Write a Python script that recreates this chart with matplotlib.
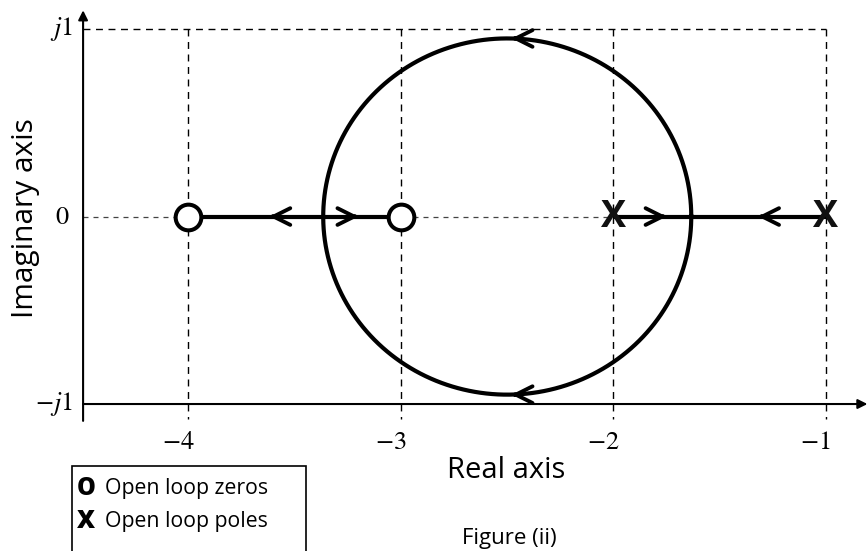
import numpy as np
import matplotlib
matplotlib.use("Agg")
import matplotlib.pyplot as plt
from matplotlib.patches import Rectangle

plt.rcParams['mathtext.fontset'] = 'stix'

# ---- data ----
zeros = [-4.0, -3.0]
poles = [-2.0, -1.0]
x_ticks = [-4, -3, -2, -1]
x_tick_labels = [r'$-4$', r'$-3$', r'$-2$', r'$-1$']
y_ticks = [1, -1]
y_tick_labels = [r'$j1$', r'$-j1$']
zero_label = r'$0$'
circle_center = -2.5
circle_rx = 0.866
circle_ry = 0.95
# real-axis arrow tips (x, direction)
real_arrows = [(-3.62, -1), (-3.2, 1), (-1.75, 1), (-1.32, -1)]
circle_arrows = [(-2.48, 0.95, -1), (-2.48, -0.95, -1)]

fig = plt.figure(figsize=(8.67, 5.51), dpi=100)
ax = fig.add_axes([0, 0, 1, 1])
ax.set_xlim(-4.887, -0.807)
ax.set_ylim(-1.784, 1.155)
ax.axis('off')

xa = -4.496   # x position of imaginary axis
# axes with arrows
ax.annotate('', xy=(-0.805, -1), xytext=(xa, -1),
            arrowprops=dict(arrowstyle='-|>', lw=1.5, color='black', mutation_scale=14, shrinkA=0, shrinkB=0))
ax.annotate('', xy=(xa, 1.10), xytext=(xa, -1.09),
            arrowprops=dict(arrowstyle='-|>', lw=1.5, color='black', mutation_scale=14, shrinkA=0, shrinkB=0))

# dashed grid lines
dash = dict(color='black', lw=1.0, ls=(0, (5, 4)))
ax.plot([xa, x_ticks[-1]], [1, 1], **dash)
for xt in x_ticks:
    ax.plot([xt, xt], [1, -1.08], **dash)
ax.plot([xa, poles[0]], [0, 0], color='#444444', lw=0.9, ls=(0, (4, 4)))

# root locus branches on real axis
ax.plot([zeros[0], zeros[1]], [0, 0], color='black', lw=3, solid_capstyle='butt', zorder=3)
ax.plot([poles[0], poles[1]], [0, 0], color='black', lw=3, solid_capstyle='butt', zorder=3)

# circle
t = np.linspace(0, 2 * np.pi, 400)
ax.plot(circle_center + circle_rx * np.cos(t), circle_ry * np.sin(t), color='black', lw=3, zorder=3)

# chevron arrows
def chevron(x, y, d):
    ax.annotate('', xy=(x, y), xytext=(x - d * 0.02, y),
                arrowprops=dict(arrowstyle='->', lw=2.8, color='black', mutation_scale=30,
                                shrinkA=0, shrinkB=0, capstyle='round'), zorder=4)

for x, d in real_arrows:
    chevron(x, 0, d)
for x, y, d in circle_arrows:
    chevron(x, y, d)

# zeros and poles
ax.plot(zeros, [0, 0], 'o', ms=18.5, mfc='white', mec='black', mew=2.9, zorder=5)
for p in poles:
    ax.text(p, 0, 'X', fontsize=27, fontweight='bold', family='Open Sans',
            ha='center', va='center', color='#111111', zorder=6)

# tick labels
for xt, lab in zip(x_ticks, x_tick_labels):
    ax.text(xt - 0.05, -1.203, lab, fontsize=19, ha='center', va='center')
for yt, lab in zip(y_ticks, y_tick_labels):
    ax.text(-4.543, yt, lab, fontsize=19, ha='right', va='center')
ax.text(-4.595, 0, zero_label, fontsize=19, ha='center', va='center')

# axis labels
ax.text(-2.506, -1.357, 'Real axis', fontsize=21, family='Open Sans', ha='center', va='center')
ax.text(-4.769, -0.008, 'Imaginary axis', fontsize=21.5, family='Open Sans', ha='center', va='center', rotation=90)

# legend box
ax.add_patch(Rectangle((-4.548, -1.80), 1.101, 0.469, fill=False, lw=1.2, ec='black'))
ax.text(-4.482, -1.448, 'O', fontsize=17, fontweight='heavy', family='Open Sans', ha='center', va='center')
ax.text(-4.393, -1.448, 'Open loop zeros', fontsize=15.3, family='Open Sans', ha='left', va='center')
ax.text(-4.482, -1.624, 'X', fontsize=18, fontweight='heavy', family='Open Sans', ha='center', va='center')
ax.text(-4.393, -1.624, 'Open loop poles', fontsize=15.3, family='Open Sans', ha='left', va='center')

ax.text(-2.492, -1.715, 'Figure (ii)', fontsize=16, family='Open Sans', ha='center', va='center')

fig.savefig('out.png', dpi=100)
